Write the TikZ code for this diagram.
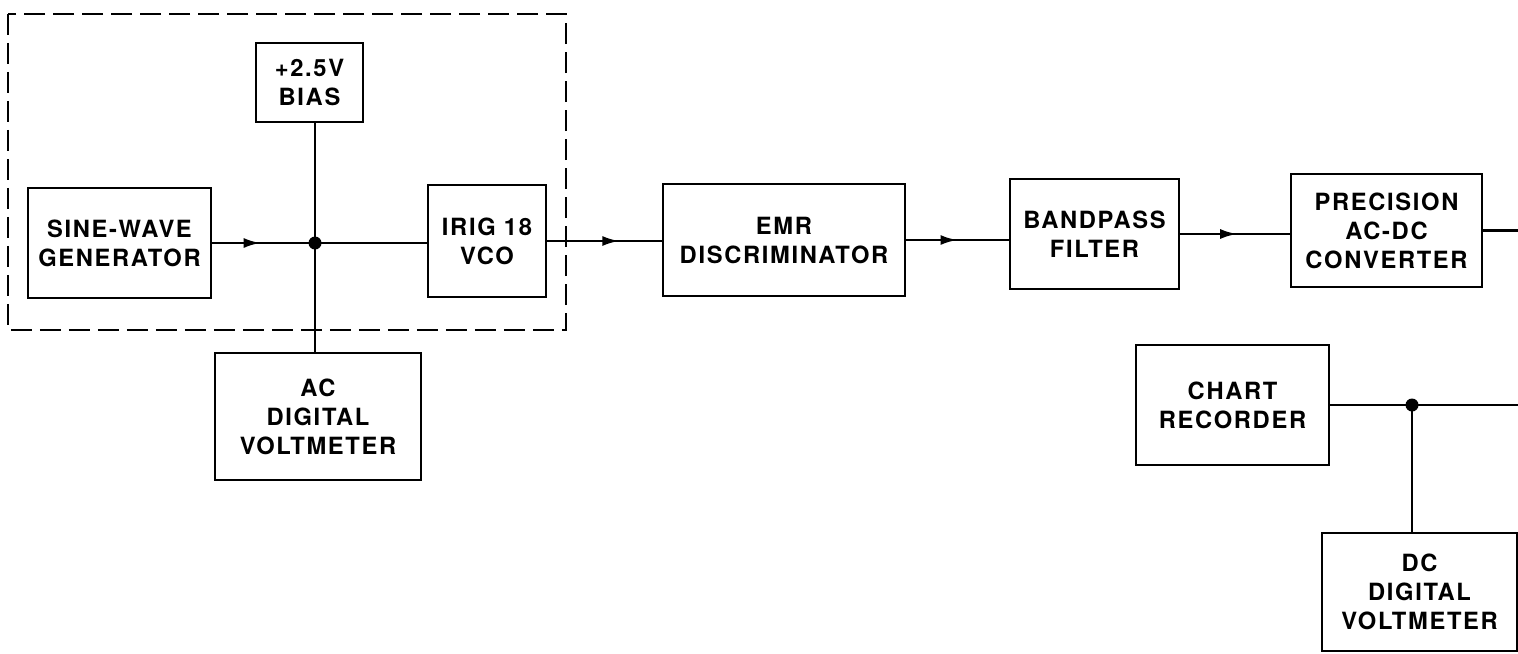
\documentclass[tikz,border=0pt]{standalone}
\usepackage{fontspec}
\newfontfamily\blockfont[LetterSpace=7]{TeX Gyre Heros}
\usetikzlibrary{arrows.meta, decorations.markings, calc}

\begin{document}
\begin{tikzpicture}[
    x=0.2mm, y=-0.2mm,
    blk/.style={draw, line width=1.6pt, inner sep=0pt, align=center, font=\blockfont\bfseries\fontsize{13.5}{16.5}\selectfont},
    wire/.style={line width=1.5pt},
    midarr/.style={postaction={decorate}, decoration={markings, mark=at position #1 with {\arrow{Latex[length=3.4mm,width=2mm]}}}},
    dot/.style={circle, fill, inner sep=0pt, minimum size=2.6mm}
]
    \useasboundingbox (0,0) rectangle (1518,653);

    % dashed frame round the VCO stage
    \draw[wire, dash pattern=on 12pt off 4.5pt] (8,14) rectangle (566,330);

    % blocks
    \node[blk, minimum width=21.4mm, minimum height=15.8mm] (bias) at (309.5,82.5) {+2.5V\\BIAS};
    \node[blk, minimum width=36.6mm, minimum height=22mm] (sine) at (119.5,243) {SINE-WAVE\\GENERATOR};
    \node[blk, minimum width=23.6mm, minimum height=22.4mm] (vco) at (487,241) {IRIG 18\\VCO};
    \node[blk, minimum width=41.2mm, minimum height=25.4mm] (acdvm) at (318,416.5) {AC\\DIGITAL\\VOLTMETER};
    \node[blk, minimum width=48.4mm, minimum height=22.4mm] (emr) at (784,240) {EMR\\DISCRIMINATOR};
    \node[blk, minimum width=33.8mm, minimum height=22mm] (bpf) at (1094.5,234) {BANDPASS\\FILTER};
    \node[blk, minimum width=38.2mm, minimum height=22.6mm] (pacdc) at (1386.5,230.5) {PRECISION\\AC-DC\\CONVERTER};
    \node[blk, minimum width=38.6mm, minimum height=24mm] (chart) at (1232.5,405) {CHART\\RECORDER};
    \node[blk, minimum width=39mm, minimum height=23.6mm] (dcdvm) at (1419.5,592) {DC\\DIGITAL\\VOLTMETER};

    % junctions and free ends at the right margin
    \coordinate (j1) at (315,243);
    \coordinate (j2) at (1412,405);
    \coordinate (r1) at (1518,230.5);
    \coordinate (r2) at (1518,405);

    % signal path
    \draw[wire, midarr=0.47] (sine.east) -- (j1);
    \draw[wire] (j1) -- (j1 -| vco.west);
    \draw[wire] (j1 |- bias.south) -- (j1 |- acdvm.north);
    \node[dot] (d1) at (j1) {};
    \draw[wire, midarr=0.63] (vco.east) -- (vco.east -| emr.west);
    \draw[wire, midarr=0.5] (emr.east) -- (emr.east -| bpf.west);
    \draw[wire, midarr=0.52] (bpf.east) -- (bpf.east -| pacdc.west);
    \draw[wire] (pacdc.east) -- (r1);

    % output side
    \draw[wire] (chart.east) -- (r2);
    \draw[wire] (j2) -- (j2 |- dcdvm.north);
    \node[dot] (d2) at (j2) {};
\end{tikzpicture}
\end{document}
